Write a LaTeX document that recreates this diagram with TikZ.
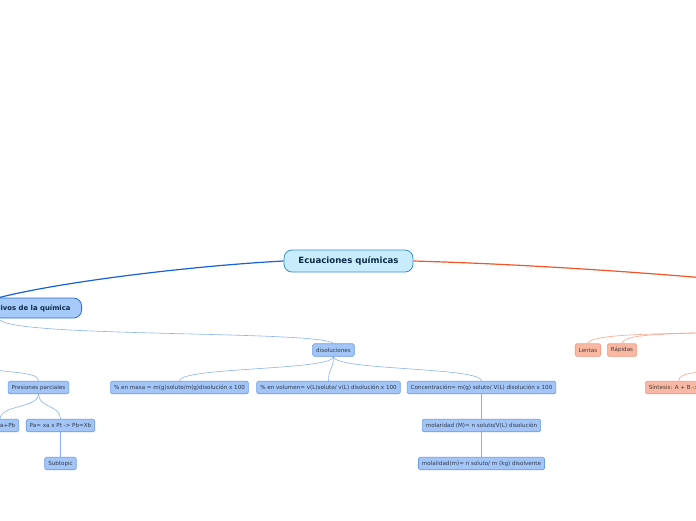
\documentclass[tikz,border=0pt]{standalone}
\usepackage{fontspec}
\setmainfont{DejaVu Sans}
\usetikzlibrary{calc,backgrounds}
\definecolor{cfill}{HTML}{C8ECFB}
\definecolor{cdraw}{HTML}{3A8FCF}
\definecolor{ctext}{HTML}{0D2A4A}
\definecolor{lfill}{HTML}{A6CBFA}
\definecolor{ldraw}{HTML}{2F6FD6}
\definecolor{bfill}{HTML}{A3C5F7}
\definecolor{bdraw}{HTML}{6B9CE6}
\definecolor{btext}{HTML}{2E3A4A}
\definecolor{sfill}{HTML}{F9B8A3}
\definecolor{sdraw}{HTML}{F19A80}
\definecolor{stext}{HTML}{4A3A35}
\definecolor{mainblue}{HTML}{1761D6}
\definecolor{mainred}{HTML}{F0562A}
\definecolor{lightblue}{HTML}{8AB4F0}
\definecolor{lightsal}{HTML}{F8A890}
\tikzset{
  central/.style={draw=cdraw, fill=cfill, line width=0.8pt, rounded corners=8pt,
    minimum width=129pt, minimum height=22pt, inner sep=0pt, text=ctext,
    font=\fontsize{8.6}{10}\selectfont\bfseries},
  mainnode/.style={draw=ldraw, fill=lfill, line width=0.8pt, rounded corners=8pt,
    minimum height=20pt, inner xsep=11pt, inner ysep=0pt, text=ctext,
    font=\fontsize{6.9}{8}\selectfont\bfseries},
  blu/.style={draw=bdraw, fill=bfill, line width=0.6pt, rounded corners=1.5pt,
    minimum height=12.5pt, inner xsep=3.5pt, inner ysep=0pt, text=btext,
    font=\fontsize{5.6}{6.5}\selectfont},
  sal/.style={draw=sdraw, fill=sfill, line width=0.6pt, rounded corners=1.5pt,
    minimum height=12.5pt, inner xsep=3.5pt, inner ysep=0pt, text=stext,
    font=\fontsize{5.6}{6.5}\selectfont},
  bline/.style={draw=lightblue, line width=0.6pt},
  sline/.style={draw=lightsal, line width=0.6pt},
}
\begin{document}
\begin{tikzpicture}[x=1pt,y=-1pt]
\useasboundingbox (0,0) rectangle (696,520);
% nodes
\node[central] (c) at (348.5,261) {Ecuaciones químicas};
\node[mainnode, anchor=east] (L) at (82,308) {Aspectos cuantitativos de la química};
\node[blu] (dis) at (333.5,350) {disoluciones};
\node[blu] (mas) at (179.5,387.5) {\% en masa = m(g)soluto/m(g)disolución x 100};
\node[blu] (vol) at (328.5,387.5) {\% en volumen= v(L)soluto/ v(L) disolución x 100};
\node[blu] (con) at (481.5,387.5) {Concentración= m(g) soluto/ V(L) disolución x 100};
\node[blu] (mol) at (481.5,425.5) {molaridad (M)= n soluto/V(L) disolución};
\node[blu] (mll) at (481.5,463.5) {molalidad(m)= n soluto/ m (kg) disolvente};
\node[blu] (pp) at (38.5,387.5) {Presiones parciales};
\node[blu, anchor=east] (pt) at (19,425.5) {Pt= Pa+Pb};
\node[blu] (pa) at (60.5,425.5) {Pa= xa x Pt -> Pb=Xb};
\node[blu] (sub) at (60.5,463.5) {Subtopic};
\node[sal] (len) at (588,350) {Lentas};
\node[sal] (rap) at (622,350) {Rápidas};
\node[sal, anchor=west] (sin) at (645,387.5) {Síntesis: A + B -> AB};
\coordinate (R) at (740,281);
\coordinate (gas) at (-30,366);
\coordinate (vel) at (740,332);
\coordinate (reac) at (730,370);
\begin{scope}[on background layer]
\fill[white] (0,0) rectangle (696,520);
\draw[mainblue, line width=1.2pt] (c.west) .. controls (190,266) and (60,282) .. (L.north);
\draw[mainred, line width=1.2pt] (c.east) .. controls (520,264) and (640,272) .. (R);
\draw[bline] (L.south) .. controls (0,338) and (320,330) .. (dis.north);
\draw[bline] (gas) .. controls (10,374) and (38,371) .. (pp.north);
\foreach \a/\b in {dis/mas,dis/vol,dis/con,con/mol,mol/mll,pp/pt,pp/pa,pa/sub}{
  \draw[bline] (\a.south) .. controls ($(\a.south)+(0,14)$) and ($(\b.north)+(0,-14)$) .. (\b.north);
}
\draw[sline] (vel) .. controls (650,334) and (590,334) .. (len.north);
\draw[sline] (vel) .. controls (660,334) and (624,334) .. (rap.north);
\draw[sline] (reac) .. controls (700,372) and (sin.north|-0,372) .. (sin.north);
\end{scope}
\end{tikzpicture}
\end{document}
